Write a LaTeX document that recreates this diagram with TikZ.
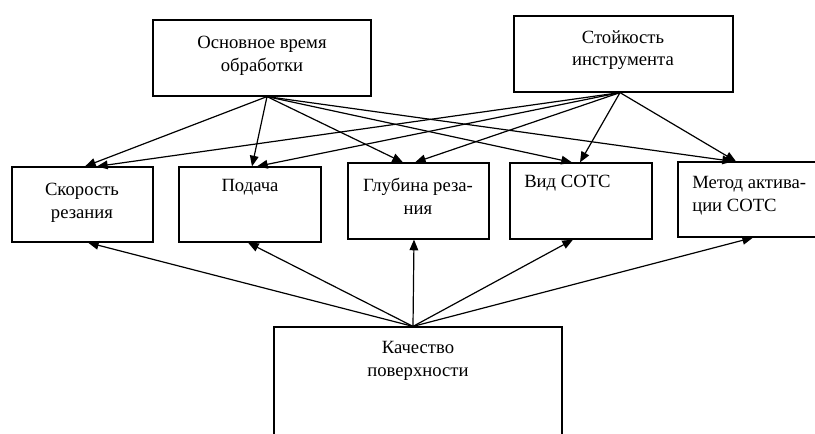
\documentclass[tikz,border=0pt]{standalone}
\usepackage{fontspec}
\setmainfont{Liberation Serif}
\usetikzlibrary{arrows.meta,calc,fit}
\begin{document}
\begin{tikzpicture}[x=0.75pt,y=-0.75pt,
  box/.style={draw, line width=0.9pt, inner sep=0pt},
  lbl/.style={inner sep=0pt, align=center, font=\fontsize{14}{17}\selectfont},
  lbll/.style={lbl, align=left, anchor=west},
  link/.style={line width=0.9pt, -{Triangle[length=8pt,width=6.5pt]}}]
\useasboundingbox (0,0) rectangle (815,433);
\clip (0,0) rectangle (815,433);

% boxes
\node[box, fit={(153,20) (371,96)}] (time) {};
\node[box, fit={(514,16) (733,92)}] (dur) {};
\node[box, fit={(12,167) (153,242)}] (speed) {};
\node[box, fit={(179,167) (321,242)}] (feed) {};
\node[box, fit={(348,163) (489,239)}] (depth) {};
\node[box, fit={(510,163) (652,239)}] (fluid) {};
\node[box, fit={(678,162) (820,237)}] (method) {};
\node[box, fit={(274,327) (562,480)}] (quality) {};

% labels
\node[lbl] (timet) at (262,56) {Основное время\\обработки};
\node[lbl] (durt) at (623,50) {Стойкость\\инструмента};
\node[lbl] (speedt) at (82,203) {Скорость\\резания};
\node[lbl] (feedt) at (250,187) {Подача};
\node[lbl] (deptht) at (418,196) {Глубина реза-\\ния};
\node[lbll] (fluidt) at (524,183) {Вид СОТС};
\node[lbll] (methodt) at (692,196) {Метод актива-\\ции СОТС};
\node[lbl] (qualityt) at (418,361) {Качество\\поверхности};

% connector hubs
\coordinate (timeo) at ($(time.south)+(5,0)$);
\coordinate (duro) at ($(dur.south)+(-3.5,0)$);
\coordinate (qualo) at ($(quality.north)+(-5,0)$);

% links from the machining time
\draw[link] (timeo) -- ($(speed.north)+(2.5,0)$);
\draw[link] (timeo) -- ($(feed.north)+(2,0)$);
\draw[link] (timeo) -- ($(depth.north)+(-15.5,0)$);
\draw[link] (timeo) -- ($(fluid.north)+(-9,0)$);
\draw[link] (timeo) -- ($(method.north)+(-16,0)$);

% links from the tool life
\draw[link] (duro) -- ($(speed.north)+(14.5,0)$);
\draw[link] (duro) -- ($(feed.north)+(7,0)$);
\draw[link] (duro) -- ($(depth.north)+(-3.5,0)$);
\draw[link] (duro) -- ($(fluid.north)+(-1,0)$);
\draw[link] (duro) -- ($(method.north)+(-13,0)$);

% links from the surface quality
\draw[link] (qualo) -- ($(speed.south)+(5.5,0)$);
\draw[link] (qualo) -- ($(feed.south)+(-2,0)$);
\draw[link] (qualo) -- ($(depth.south)+(-4.5,0)$);
\draw[link] (qualo) -- ($(fluid.south)+(-8,0)$);
\draw[link] (qualo) -- ($(method.south)+(4,0)$);
\end{tikzpicture}
\end{document}
